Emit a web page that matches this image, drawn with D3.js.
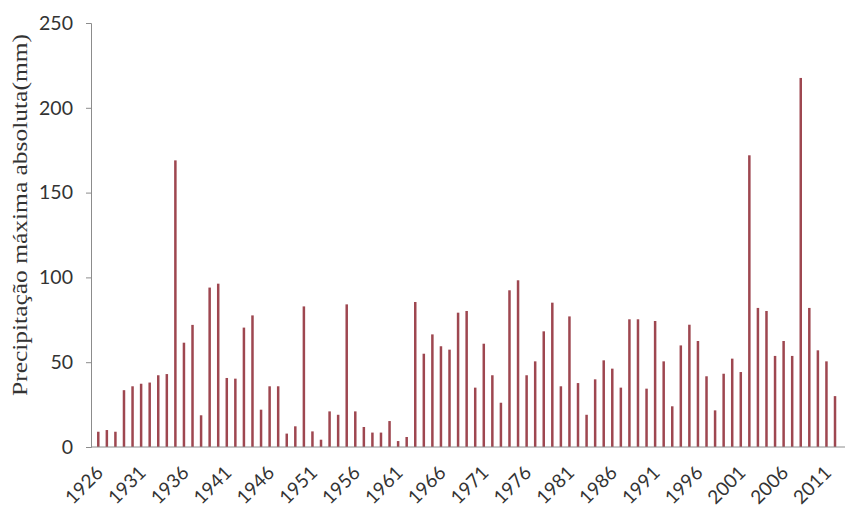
<!DOCTYPE html>
<html>
<head>
<meta charset="utf-8">
<script src="https://cdn.jsdelivr.net/npm/d3@7"></script>
<style>
  body { margin: 0; background: #fff; }
  svg { display: block; }
</style>
</head>
<body>
<div id="main"></div>
<script>
// annual maximum precipitation, 1926-2012
const years = d3.range(1926, 2013);
const values = [
    9, 10, 9, 33.5, 35.8, 37.3, 38, 42.3, 43, 169,
    61.5, 72, 18.7, 94, 96.3, 40.7, 40.3, 70.4, 77.6, 22,
    35.8, 35.8, 7.9, 12.2, 82.9, 9.2, 4.3, 21, 19, 84.1,
    21, 11.8, 8.5, 8.5, 15.3, 3.5, 5.9, 85.5, 55, 66.4,
    59.4, 57.4, 79.2, 80.2, 35, 60.9, 42.3, 26.1, 92.4, 98.3,
    42.3, 50.5, 68.2, 85.1, 35.8, 77, 37.7, 19, 39.9, 51.1,
    46.2, 35, 75.3, 75.3, 34.4, 74.3, 50.5, 24, 59.9, 72.1,
    62.5, 41.7, 21.6, 43.2, 52.1, 44.2, 172, 82, 80.2, 53.7,
    62.5, 53.7, 217.6, 82, 57, 50.5, 30
];
const yTicks = [0, 50, 100, 150, 200, 250];
const xLabels = d3.range(1926, 2013, 5);
const yTitle = "Precipitação máxima absoluta(mm)";

const ctx = {
    w: 847,
    h: 508,
    axisX: 91,
    axisRight: 845,
    BAR_W: 2.5,
    BAR_COLOR: "#9e4750",
    AXIS_COLOR: "#8c8c8c",
    TEXT_COLOR: "#333",
};

const data = years.map((y, i) => ({year: y, value: values[i]}));

const x = d3.scaleBand().domain(years).range([94, 839.3]);
const y = d3.scaleLinear().domain([0, 250]).range([447, 23]);

const svg = d3.select("#main").append("svg")
    .attr("width", ctx.w)
    .attr("height", ctx.h);

// bars
svg.append("g").attr("id", "bars")
   .selectAll("rect")
   .data(data)
   .enter()
   .append("rect")
   .attr("x", d => x(d.year) + x.bandwidth()/2 - ctx.BAR_W/2)
   .attr("width", ctx.BAR_W)
   .attr("y", d => y(d.value))
   .attr("height", d => y(0) - y(d.value))
   .attr("fill", ctx.BAR_COLOR);

// y axis
const yAxis = svg.append("g")
    .attr("transform", `translate(${ctx.axisX},0)`)
    .call(d3.axisLeft(y).tickValues(yTicks).tickSize(5).tickPadding(13));
yAxis.select(".domain").attr("stroke", ctx.AXIS_COLOR);
yAxis.selectAll(".tick line").attr("stroke", ctx.AXIS_COLOR);
yAxis.selectAll(".tick text")
     .attr("fill", ctx.TEXT_COLOR)
     .attr("font-family", "Lato, 'Open Sans', sans-serif")
     .attr("font-size", 19.5);

// x axis baseline
svg.append("line")
   .attr("x1", ctx.axisX).attr("x2", ctx.axisRight)
   .attr("y1", y(0)).attr("y2", y(0))
   .attr("stroke", ctx.AXIS_COLOR);

// x labels, rotated
svg.append("g").attr("id", "xlabels")
   .selectAll("text")
   .data(xLabels)
   .enter()
   .append("text")
   .attr("transform", d => `translate(${x(d) + x.bandwidth()/2 + 6},${474}) rotate(-45)`)
   .attr("text-anchor", "end")
   .attr("fill", ctx.TEXT_COLOR)
   .attr("font-family", "Lato, 'Open Sans', sans-serif")
   .attr("font-size", 19)
   .text(d => d);

// y title
svg.append("text")
   .attr("transform", "translate(27,215) rotate(-90)")
   .attr("text-anchor", "middle")
   .attr("fill", ctx.TEXT_COLOR)
   .attr("font-family", "'Liberation Serif', 'DejaVu Serif', serif")
   .attr("font-size", 20)
   .attr("textLength", 362)
   .attr("lengthAdjust", "spacingAndGlyphs")
   .text(yTitle);
</script>
</body>
</html>
